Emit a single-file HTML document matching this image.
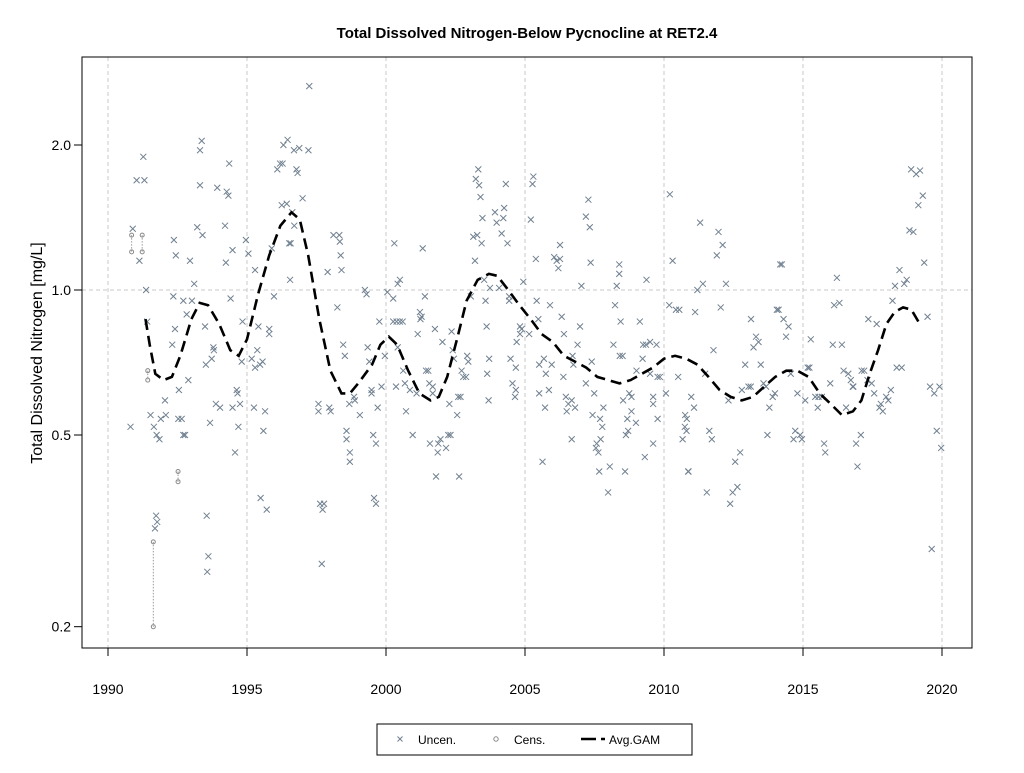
<!DOCTYPE html>
<html><head><meta charset="utf-8"><style>
body{margin:0;background:#fff;}
svg text{font-family:"Liberation Sans",Arial,sans-serif;}
</style></head><body>
<svg id="chart" width="1024" height="768" viewBox="0 0 1024 768" xmlns="http://www.w3.org/2000/svg">
<rect width="1024" height="768" fill="#fff"/>
<text x="527" y="38" text-anchor="middle" font-size="15" font-weight="bold">Total Dissolved Nitrogen-Below Pycnocline at RET2.4</text>
<text x="0" y="0" transform="translate(42,353) rotate(-90)" text-anchor="middle" font-size="16">Total Dissolved Nitrogen [mg/L]</text>
<g id="grid"></g>
<g id="axes"></g>
<g id="cens"></g>
<g id="unc"></g>
<path id="gam" fill="none" stroke="#000" stroke-width="2.6" stroke-dasharray="11,6"/>
<rect x="82" y="57" width="890" height="591" fill="none" stroke="#000" stroke-width="1"/>
<g>
<rect x="377" y="724" width="315" height="31" fill="#fff" stroke="#000" stroke-width="1"/>
<g>
<path d="M397.5,736.5l5,5M402.5,736.5l-5,5" stroke="#708090" stroke-width="1"/>
<text x="418" y="744" font-size="12">Uncen.</text></g>
<g>
<circle cx="496" cy="739" r="2.2" fill="none" stroke="#888" stroke-width="1"/>
<text x="514" y="744" font-size="12">Cens.</text></g>
<g>
<path d="M581,739h15M601,739h4" stroke="#000" stroke-width="2.5"/>
<text x="609" y="744" font-size="12">Avg.GAM</text></g>
</g>
</svg>
<script>
const xTicks=[1990,1995,2000,2005,2010,2015,2020];
const yTicks=[0.2,0.5,1.0,2.0];
const yTickLabels=["0.2","0.5","1.0","2.0"];
const uncYears=[1991.27,1991.03,1991.31,1990.89,1991.13,1991.37,1991.41,1991.53,1990.81,1991.65,1991.75,1991.85,1991.73,1991.77,1991.69,1992.05,1991.9,1992.08,1992.53,1992.65,1992.71,1992.77,1992.55,1992.89,1992.31,1992.41,1992.37,1992.44,1992.35,1992.71,1993.02,1992.95,1993.1,1992.83,1993.21,1993.31,1993.31,1993.37,1993.4,1993.49,1993.52,1993.73,1993.79,1993.81,1993.88,1994.03,1993.67,1993.55,1993.61,1993.57,1993.93,1994.27,1994.33,1994.36,1994.21,1994.24,1994.48,1994.41,1994.84,1994.48,1994.75,1994.63,1994.66,1994.69,1994.57,1994.96,1995.05,1995.29,1995.41,1995.8,1995.8,1995.37,1995.17,1995.29,1995.47,1995.56,1994.81,1995.25,1995.65,1995.59,1995.49,1995.71,1995.89,1995.97,1996.09,1996.19,1996.28,1996.31,1996.46,1996.69,1996.88,1997.21,1996.78,1996.82,1996.25,1996.43,1997.0,1996.63,1996.7,1996.52,1996.57,1996.55,1997.24,1997.57,1997.57,1997.96,1998.01,1997.63,1997.77,1997.72,1997.69,1997.9,1998.11,1998.32,1998.34,1998.37,1998.4,1998.25,1998.46,1998.52,1998.58,1998.58,1998.7,1998.7,1998.85,1998.88,1999.06,1998.68,1999.34,1999.4,1999.48,1999.48,1999.54,1999.64,1999.57,1999.64,1999.7,1999.84,1999.76,1999.96,1999.24,1999.3,2000.05,2000.26,2000.3,2000.42,2000.26,2000.38,2000.42,2000.36,
2001.32,2000.5,2001.4,2000.5,2000.6,2001.22,2001.24,2001.28,2001.14,2001.76,2002.36,2002.03,2002.4,2002.44,2002.92,2002.96,2000.62,2000.68,2000.86,2001.1,2001.44,2001.52,2001.56,2001.68,2001.68,2000.72,2000.96,2001.58,2001.88,2001.96,2002.16,2001.86,2001.8,2002.63,2002.24,2002.32,2002.28,2002.56,2002.6,2002.68,2002.72,2002.78,2002.88,2003.62,2003.71,2003.64,2003.69,2004.48,2004.67,2004.55,2004.67,2004.64,2004.7,2004.82,2004.88,2003.05,2003.58,2003.74,2004.07,2003.53,2004.43,2004.43,2003.2,2003.14,2003.28,2003.44,2003.47,2003.4,2003.23,2003.35,2003.32,2003.92,2003.98,2004.22,2004.25,2004.31,2004.16,2004.37,2004.94,2005.21,2005.27,2005.3,2005.39,2005.42,2005.9,2006.32,2006.4,2005.48,2005.15,2004.82,2005.51,2005.68,2005.96,2005.75,2006.38,2005.51,2005.86,2005.72,2006.68,2005.63,2006.05,2006.26,2006.14,2006.26,2006.2,2006.98,2006.89,2007.19,2007.28,2007.33,2007.36,2007.03,2006.47,2006.56,2006.68,2006.8,2006.5,2006.71,2006.74,2007.19,2007.49,2007.4,2007.43,2007.7,2007.78,2007.72,2007.58,2007.55,2007.64,2007.67,2008.05,2008.6,2007.99,2007.82,2008.18,2008.24,2008.44,2008.41,2008.51,2008.3,2008.39,2008.39,2008.53,2008.75,2008.83,2008.68,2008.99,2008.83,2008.71,2008.63,2009.31,2009.61,2009.13,2009.23,2009.25,2009.35,2009.5,2009.73,2009.37,2009.01,2009.5,2009.77,2009.85,2009.61,2009.61,2009.77,2010.07,2010.19,2010.43,2010.55,2010.21,2010.31,2010.51,2010.75,2010.81,2010.67,2010.87,
2011.3,2011.96,2012.11,2011.9,2011.2,2011.4,2012.23,2011.12,2012.04,2011.78,2011.48,2010.98,2011.08,2010.76,2010.82,2011.63,2011.72,2012.32,2010.88,2011.54,2012.47,2012.64,2012.38,2012.74,2012.56,2012.8,2013.04,2013.12,2012.92,2013.13,2013.31,2013.4,2013.22,2013.48,2013.58,2013.67,2013.91,2013.99,2013.79,2013.72,2014.18,2014.24,2014.06,2014.12,2014.3,2014.48,2014.39,2014.56,2014.8,2015.08,2014.72,2014.9,2014.66,2014.96,2015.17,2015.23,2015.28,2015.44,2015.56,2015.68,2015.53,2015.76,2015.8,2015.98,2016.22,2016.12,2016.31,2016.07,2016.4,2016.46,2016.63,2016.72,2016.79,2016.81,2016.55,2016.91,2017.08,2016.96,2017.11,2017.2,2017.35,2017.65,2017.32,2017.47,2017.56,2017.99,2018.16,2018.07,2017.8,2017.75,2017.87,2018.37,2018.55,2018.22,2018.31,2018.64,2018.73,2018.47,2018.83,2018.97,2019.36,2019.15,2019.31,2018.89,2019.07,2019.21,2019.48,2019.57,2019.91,2019.72,2019.81,2019.97,2019.63];
const uncValues=[1.89,1.69,1.69,1.34,1.15,1.0,0.86,0.55,0.52,0.52,0.50,0.49,0.34,0.33,0.32,0.59,0.54,0.55,0.54,0.54,0.50,0.50,0.62,0.65,0.77,0.83,1.27,1.18,0.97,0.95,0.95,1.15,1.03,0.89,1.35,1.65,1.95,2.04,1.30,0.84,0.70,0.72,0.76,0.75,0.58,0.57,0.53,0.34,0.28,0.26,1.63,1.60,1.57,1.83,1.36,1.14,1.21,0.96,0.86,0.57,0.58,0.62,0.61,0.52,0.46,1.27,1.19,1.10,0.84,0.83,0.81,0.75,0.72,0.69,0.70,0.71,0.71,0.57,0.56,0.51,0.37,0.35,1.22,0.97,1.78,1.83,1.83,2.0,2.05,1.95,1.97,1.95,1.78,1.75,1.50,1.51,1.55,1.45,1.36,1.25,1.25,1.05,2.65,0.58,0.56,0.57,0.56,0.36,0.36,0.35,0.27,1.09,1.30,1.30,1.26,1.18,1.10,0.92,0.77,0.73,0.51,0.49,0.46,0.44,0.60,0.59,0.55,0.58,0.76,0.71,0.62,0.61,0.50,0.48,0.37,0.36,0.57,0.63,0.86,0.73,1.0,0.98,0.99,0.96,1.25,1.03,0.86,0.86,0.76,0.63,
1.22,1.05,0.97,0.86,0.86,0.90,0.87,0.88,0.81,0.83,0.82,0.78,0.75,0.72,0.73,0.71,0.68,0.64,0.62,0.61,0.68,0.68,0.64,0.63,0.61,0.56,0.50,0.48,0.48,0.49,0.47,0.46,0.41,0.41,0.50,0.50,0.58,0.55,0.60,0.60,0.68,0.66,0.66,0.84,0.72,0.67,0.59,0.72,0.69,0.64,0.62,0.60,0.78,0.84,0.83,0.97,0.95,1.01,1.01,1.05,0.97,0.95,1.15,1.29,1.30,1.25,1.41,1.56,1.70,1.65,1.78,1.45,1.38,1.41,1.48,1.66,1.31,1.25,1.04,1.40,1.66,1.72,1.16,0.95,0.93,0.88,0.81,0.87,0.81,0.81,0.70,0.72,0.70,0.67,0.66,0.61,0.62,0.57,0.49,0.44,1.17,1.16,1.15,1.24,1.11,0.84,0.77,1.42,1.54,1.35,1.14,1.02,0.60,0.58,0.59,0.57,0.56,0.73,0.70,0.64,0.61,0.71,0.55,0.54,0.52,0.49,0.48,0.47,0.46,0.42,0.43,0.42,0.38,0.57,0.77,0.93,0.86,0.73,0.73,1.02,1.13,1.08,0.59,0.61,0.60,0.54,0.53,0.56,0.51,0.50,0.45,0.48,0.86,0.72,0.77,0.77,0.78,0.77,1.05,0.68,0.67,0.66,0.66,0.60,0.58,0.54,0.61,0.93,0.91,0.91,1.58,1.15,0.66,0.52,0.51,0.49,0.42,
1.38,1.32,1.24,1.18,1.0,1.03,1.03,0.90,0.92,0.75,0.67,0.60,0.57,0.55,0.54,0.51,0.49,0.59,0.42,0.38,0.38,0.39,0.36,0.46,0.44,0.62,0.63,0.63,0.70,0.87,0.80,0.78,0.76,0.70,0.64,0.63,0.60,0.61,0.57,0.50,1.13,1.13,0.91,0.91,0.87,0.84,0.80,0.67,0.61,0.59,0.51,0.50,0.49,0.49,0.69,0.69,0.79,0.60,0.60,0.60,0.57,0.48,0.46,0.64,1.06,0.93,0.94,0.77,0.77,0.68,0.67,0.65,0.63,0.63,0.57,0.48,0.50,0.43,0.68,0.68,0.87,0.85,0.65,0.64,0.61,0.60,0.62,0.59,0.58,0.57,0.56,0.69,0.69,0.95,1.02,1.03,1.05,1.10,1.33,1.32,1.14,1.50,1.57,1.78,1.74,1.77,0.88,0.63,0.63,0.61,0.51,0.47,0.29];
const censYears=[1990.85,1990.85,1991.23,1991.23,1991.43,1991.43,1991.63,1991.63,1992.52,1992.52];
const censValues=[1.30,1.20,1.30,1.20,0.68,0.65,0.30,0.20,0.42,0.40];
const gamYears=[1991.35,1991.5,1991.7,1992,1992.3,1992.6,1993,1993.3,1993.6,1994,1994.4,1994.7,1995,1995.4,1995.8,1996.2,1996.6,1996.9,1997.2,1997.6,1998,1998.4,1998.7,1999,1999.5,1999.8,2000.1,2000.4,2000.8,2001.2,2001.6,2001.9,2002.2,2002.6,2002.9,2003.3,2003.7,2004,2004.4,2004.8,2005.2,2005.6,2006,2006.4,2006.8,2007.2,2007.6,2008,2008.4,2008.8,2009.2,2009.6,2010,2010.4,2010.8,2011.2,2011.6,2012,2012.4,2012.8,2013.2,2013.6,2014,2014.4,2014.8,2015.2,2015.6,2016,2016.4,2016.8,2017.1,2017.4,2017.7,2018,2018.3,2018.6,2018.9,2019.2];
const gamValues=[0.87,0.77,0.67,0.65,0.66,0.73,0.87,0.94,0.93,0.85,0.75,0.73,0.79,0.98,1.18,1.36,1.45,1.40,1.18,0.87,0.68,0.61,0.61,0.64,0.70,0.77,0.80,0.77,0.68,0.61,0.59,0.60,0.66,0.81,0.95,1.05,1.08,1.07,1.0,0.93,0.87,0.81,0.78,0.73,0.71,0.69,0.66,0.65,0.64,0.65,0.67,0.69,0.72,0.73,0.72,0.70,0.66,0.62,0.60,0.59,0.60,0.63,0.66,0.68,0.68,0.66,0.61,0.58,0.55,0.56,0.59,0.67,0.75,0.85,0.90,0.92,0.91,0.85];

const NS='http://www.w3.org/2000/svg';
function xS(yr){return 108+(yr-1990)*27.8;}
function yS(v){return 290-Math.log10(v)*481.7;}
function mk(tag,attrs,parent){const e=document.createElementNS(NS,tag);for(const k in attrs)e.setAttribute(k,attrs[k]);parent.appendChild(e);return e;}
const grid=document.getElementById('grid'),axes=document.getElementById('axes');
xTicks.forEach(t=>{
  const l=mk('line',{x1:xS(t),x2:xS(t),y1:57,y2:648,stroke:'#c8c8c8','stroke-dasharray':'4,3'},grid);
  
  
  const tk=mk('line',{x1:xS(t),x2:xS(t),y1:648,y2:656,stroke:'#000'},axes);
  
  
  const tx=mk('text',{x:xS(t),y:694,'text-anchor':'middle','font-size':'14'},axes);
  tx.textContent=t;
  
  
});
const hg=mk('line',{x1:82,x2:972,y1:yS(1),y2:yS(1),stroke:'#c8c8c8','stroke-dasharray':'4,3'},grid);


mk('line',{x1:108,x2:942,y1:648,y2:648,stroke:'#000'},axes);
mk('line',{x1:82,x2:82,y1:yS(0.2),y2:yS(2),stroke:'#000'},axes);
yTicks.forEach((t,i)=>{
  const tk=mk('line',{x1:74,x2:82,y1:yS(t),y2:yS(t),stroke:'#000'},axes);
  
  
  const tx=mk('text',{x:71,y:yS(t)+5,'text-anchor':'end','font-size':'14'},axes);
  tx.textContent=yTickLabels[i];
  
  
});
const unc=document.getElementById('unc');
uncYears.forEach((yr,i)=>{
  const x=xS(yr),y=yS(uncValues[i]);
  const p=mk('path',{d:`M${x-3},${y-3}L${x+3},${y+3}M${x+3},${y-3}L${x-3},${y+3}`,stroke:'#708090','stroke-width':'1',fill:'none'},unc);
  
  
});
const cens=document.getElementById('cens');
for(let i=0;i<censYears.length;i+=2){
  const ln=mk('line',{x1:xS(censYears[i]),x2:xS(censYears[i+1]),y1:yS(censValues[i]),y2:yS(censValues[i+1]),stroke:'#999','stroke-dasharray':'1.5,1.5'},cens);
  
  
}
censYears.forEach((yr,i)=>{
  const c=mk('circle',{cx:xS(yr),cy:yS(censValues[i]),r:2,fill:'none',stroke:'#888','stroke-width':'1'},cens);
  
  
});
document.getElementById('gam').setAttribute('d',gamYears.map((yr,i)=>(i?'L':'M')+xS(yr).toFixed(1)+','+yS(gamValues[i]).toFixed(1)).join(''));
</script>
</body></html>
